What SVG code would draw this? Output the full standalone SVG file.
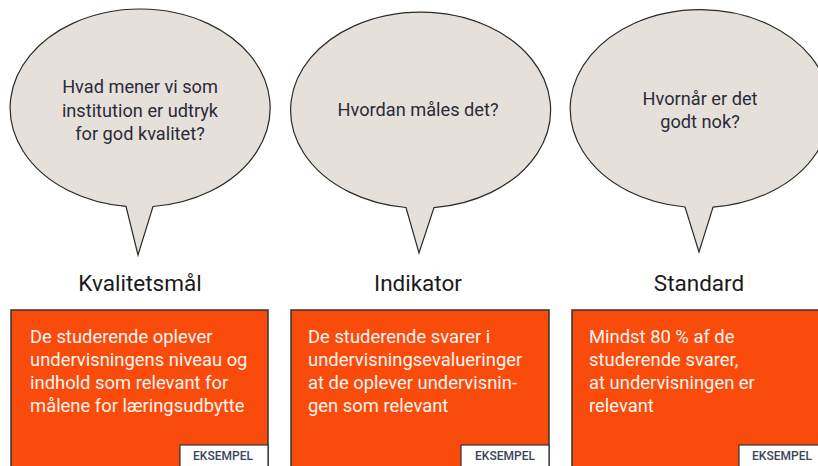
<svg xmlns="http://www.w3.org/2000/svg" width="818" height="466" viewBox="0 0 818 466">
<style>
.bubble{fill:#E5E1DA;stroke:#2a2a2a;stroke-width:1.2}
.q{font-family:Roboto,"Liberation Sans",sans-serif;font-size:18.2px;fill:#2a2a3a;text-anchor:middle}
.title{font-family:Roboto,"Liberation Sans",sans-serif;font-size:22.5px;fill:#1a1a1a;text-anchor:middle}
.box{fill:#F94B0C;stroke:#333;stroke-width:1.5}
.bt{font-family:Roboto,"Liberation Sans",sans-serif;font-size:18.4px;fill:#FFF4EE}
.tag{fill:#fff;stroke:#333;stroke-width:1.2}
.tt{font-family:Roboto,"Liberation Sans",sans-serif;font-size:12px;font-weight:500;fill:#3a4458;text-anchor:middle}
</style>
<rect width="818" height="466" fill="#fff"/>
<g id="bubble1">
<path class="bubble" d="M126,206.4 A130,99 0 1 1 153,206.5 L138,255 Z"/>
<text class="q" x="140" y="93">Hvad mener vi som</text>
<text class="q" x="140" y="117">institution er udtryk</text>
<text class="q" x="140" y="140">for god kvalitet?</text>
</g>
<g id="bubble2">
<path class="bubble" d="M406,207.5 A130,98 0 1 1 434,207.6 L419,253 Z"/>
<text class="q" x="418" y="116">Hvordan måles det?</text>
</g>
<g id="bubble3">
<path class="bubble" d="M685,207 A130,99 0 1 1 713,207.2 L699,252 Z"/>
<text class="q" x="700" y="105">Hvornår er det</text>
<text class="q" x="700" y="128">godt nok?</text>
</g>
<g id="title1"><text class="title" x="140" y="291">Kvalitetsmål</text></g>
<g id="title2"><text class="title" x="418" y="291">Indikator</text></g>
<g id="title3"><text class="title" x="699" y="291">Standard</text></g>
<g id="box1">
<rect class="box" x="11" y="310" width="257" height="170"/>
<text class="bt" x="30" y="343">De studerende oplever</text>
<text class="bt" x="30" y="366">undervisningens niveau og</text>
<text class="bt" x="30" y="389">indhold som relevant for</text>
<text class="bt" x="30" y="412">målene for læringsudbytte</text>
<rect class="tag" x="180" y="445" width="88" height="30"/>
<text class="tt" x="223" y="460">EKSEMPEL</text>
</g>
<g id="box2">
<rect class="box" x="291" y="310" width="258" height="170"/>
<text class="bt" x="308" y="343">De studerende svarer i</text>
<text class="bt" x="308" y="366">undervisningsevalueringer</text>
<text class="bt" x="308" y="389">at de oplever undervisnin-</text>
<text class="bt" x="308" y="412">gen som relevant</text>
<rect class="tag" x="461" y="445" width="88" height="30"/>
<text class="tt" x="505" y="460">EKSEMPEL</text>
</g>
<g id="box3">
<rect class="box" x="572" y="310" width="260" height="170"/>
<text class="bt" x="589" y="343">Mindst 80 % af de</text>
<text class="bt" x="589" y="366">studerende svarer,</text>
<text class="bt" x="589" y="389">at undervisningen er</text>
<text class="bt" x="589" y="412">relevant</text>
<rect class="tag" x="739" y="445" width="90" height="30"/>
<text class="tt" x="782" y="460">EKSEMPEL</text>
</g>
<g id="connectors"></g>
</svg>
